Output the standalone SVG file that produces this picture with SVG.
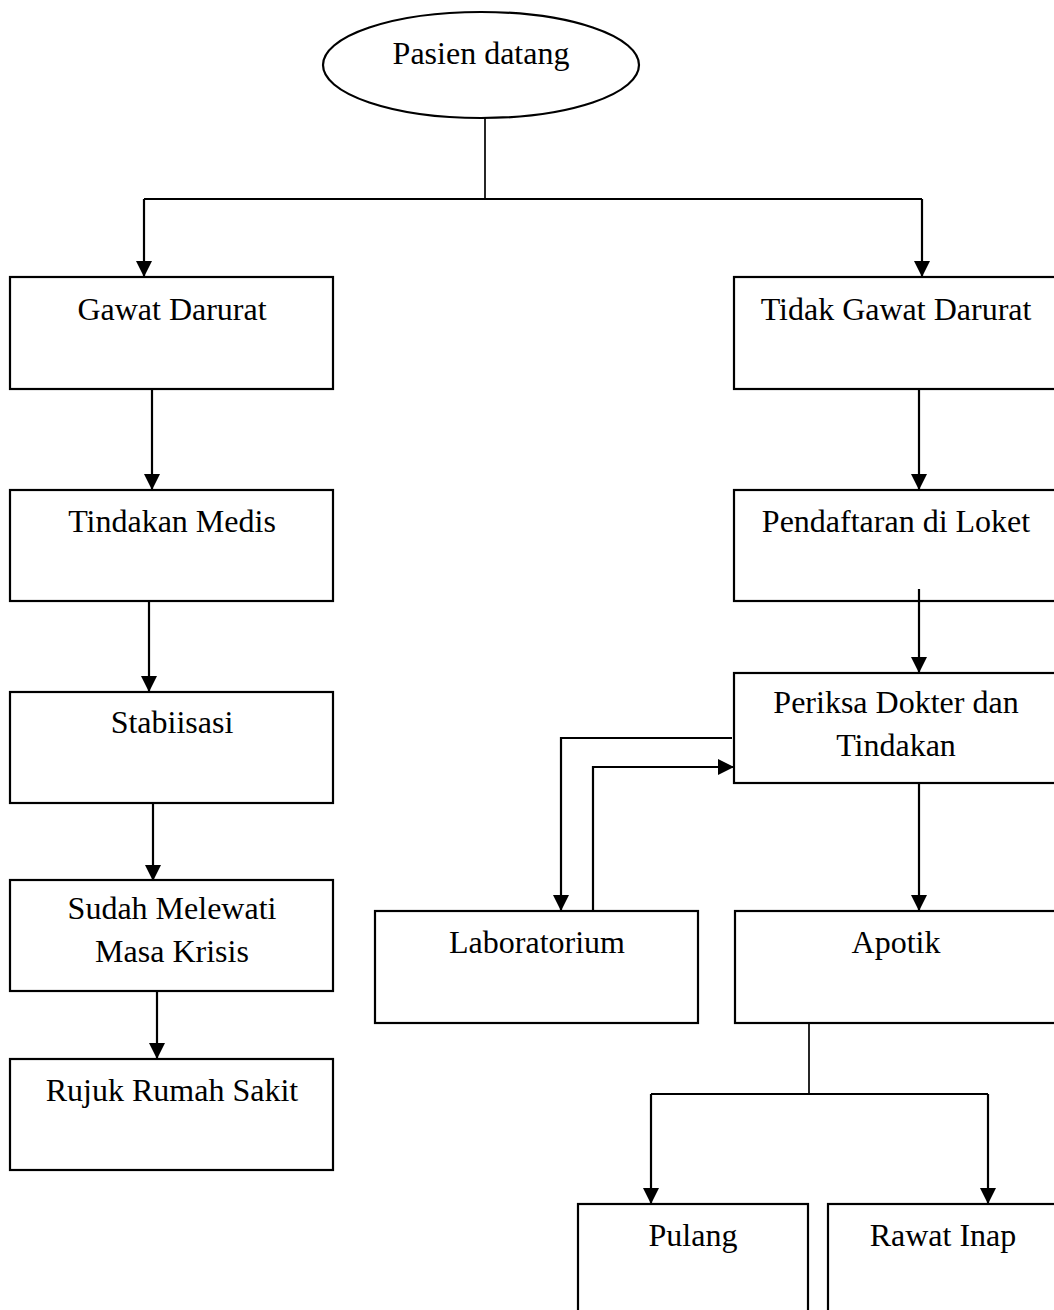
<svg xmlns="http://www.w3.org/2000/svg" width="1054" height="1310" viewBox="0 0 1054 1310">
  <style>
    .box { fill: #ffffff; stroke: #000000; stroke-width: 2.2; }
    .lbl { font-family: "Liberation Serif", "Times New Roman", serif; font-size: 32px; fill: #000000; text-anchor: middle; }
    .ln { fill: none; stroke: #000000; stroke-width: 2.2; }
    .thin { fill: none; stroke: #000000; stroke-width: 1.7; }
    .arr { fill: none; stroke: #000000; stroke-width: 2.2; marker-end: url(#head); }
  </style>
  <defs>
    <marker id="head" markerUnits="userSpaceOnUse" markerWidth="17" markerHeight="16" refX="16" refY="8" orient="auto">
      <path d="M0,0 L16,8 L0,16 Z" fill="#000000"/>
    </marker>
  </defs>
  <rect width="1054" height="1310" fill="#ffffff"/>

  <!-- connectors -->
  <g id="connectors">
    <!-- start split -->
    <polyline class="thin" points="485,118 485,199"/>
    <polyline class="ln" points="144,199 922,199"/>
    <polyline class="arr" points="144,199 144,277"/>
    <polyline class="arr" points="922,199 922,277"/>

    <!-- emergency branch -->
    <polyline class="arr" points="152,389 152,490"/>
    <polyline class="arr" points="149,601 149,692"/>
    <polyline class="arr" points="153,803 153,881"/>
    <polyline class="arr" points="157,991 157,1059"/>

    <!-- non-emergency branch -->
    <polyline class="arr" points="919,389 919,490"/>
    <polyline class="arr" points="919,589 919,673"/>
    <polyline class="arr" points="732,738 561,738 561,911"/>
    <polyline class="arr" points="593,911 593,767 734,767"/>
    <polyline class="arr" points="919,783 919,911"/>

    <!-- pharmacy split -->
    <polyline class="thin" points="809,1023 809,1094"/>
    <polyline class="ln" points="651,1094 988,1094"/>
    <polyline class="arr" points="651,1094 651,1204"/>
    <polyline class="arr" points="988,1094 988,1204"/>
  </g>

  <!-- nodes -->
  <g id="pasien-datang">
    <ellipse class="box" cx="481" cy="65" rx="158" ry="53" stroke-width="1.7"/>
    <text class="lbl" x="481" y="64">Pasien datang</text>
  </g>

  <g id="gawat-darurat">
    <rect class="box" x="10" y="277" width="323" height="112"/>
    <text class="lbl" x="172" y="320">Gawat Darurat</text>
  </g>
  <g id="tindakan-medis">
    <rect class="box" x="10" y="490" width="323" height="111"/>
    <text class="lbl" x="172" y="532">Tindakan Medis</text>
  </g>
  <g id="stabiisasi">
    <rect class="box" x="10" y="692" width="323" height="111"/>
    <text class="lbl" x="172" y="733">Stabiisasi</text>
  </g>
  <g id="sudah-melewati">
    <rect class="box" x="10" y="880" width="323" height="111"/>
    <text class="lbl" x="172" y="919">Sudah Melewati</text>
    <text class="lbl" x="172" y="962">Masa Krisis</text>
  </g>
  <g id="rujuk-rumah-sakit">
    <rect class="box" x="10" y="1059" width="323" height="111"/>
    <text class="lbl" x="172" y="1101">Rujuk Rumah Sakit</text>
  </g>

  <g id="tidak-gawat-darurat">
    <rect class="box" x="734" y="277" width="324" height="112"/>
    <text class="lbl" x="896" y="320">Tidak Gawat Darurat</text>
  </g>
  <g id="pendaftaran">
    <rect class="box" x="734" y="490" width="324" height="111"/>
    <text class="lbl" x="896" y="532">Pendaftaran di Loket</text>
  </g>
  <g id="periksa-dokter">
    <rect class="box" x="734" y="673" width="324" height="110"/>
    <text class="lbl" x="896" y="713">Periksa Dokter dan</text>
    <text class="lbl" x="896" y="756">Tindakan</text>
  </g>
  <g id="laboratorium">
    <rect class="box" x="375" y="911" width="323" height="112"/>
    <text class="lbl" x="537" y="953">Laboratorium</text>
  </g>
  <g id="apotik">
    <rect class="box" x="735" y="911" width="323" height="112"/>
    <text class="lbl" x="896" y="953">Apotik</text>
  </g>
  <g id="pulang">
    <rect class="box" x="578" y="1204" width="230" height="120"/>
    <text class="lbl" x="693" y="1246">Pulang</text>
  </g>
  <g id="rawat-inap">
    <rect class="box" x="828" y="1204" width="230" height="120"/>
    <text class="lbl" x="943" y="1246">Rawat Inap</text>
  </g>

  <!-- short stub of the registration arrow drawn over the box -->
  <polyline class="ln" points="919,589 919,601"/>
</svg>
